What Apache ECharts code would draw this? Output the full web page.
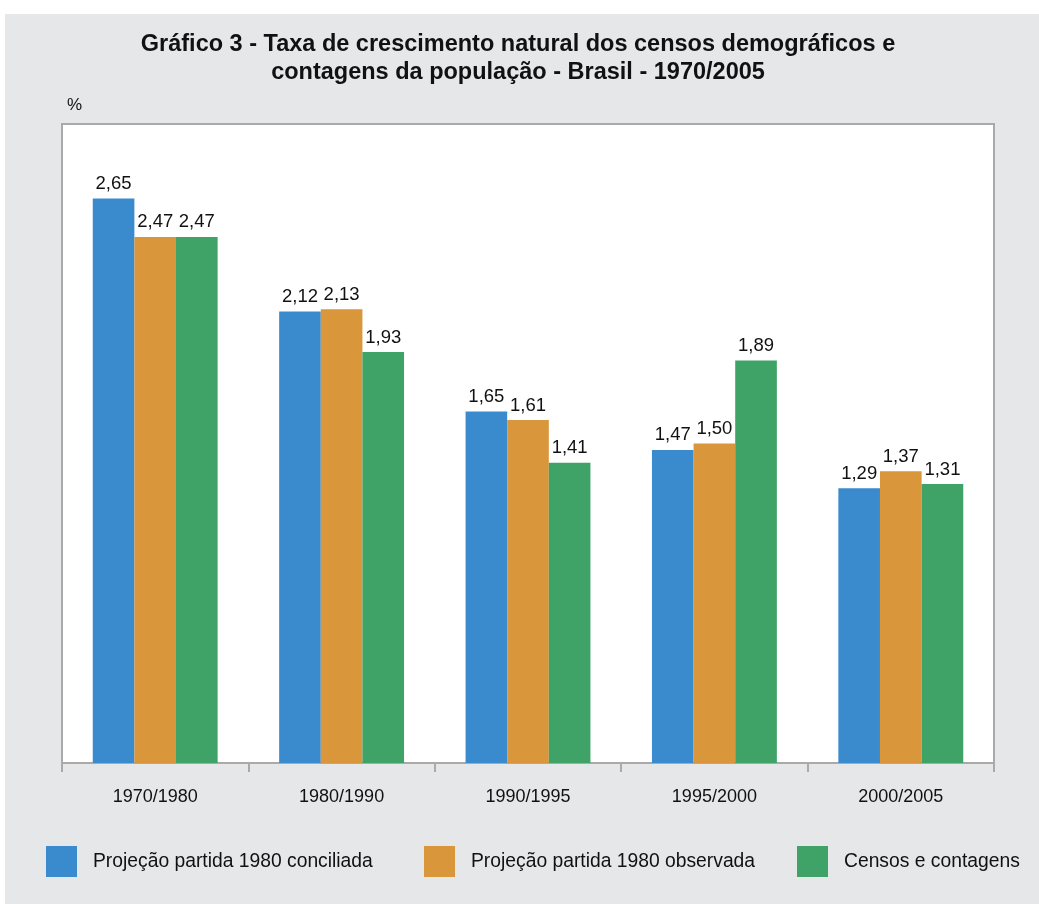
<!DOCTYPE html>
<html><head><meta charset="utf-8">
<script src="https://cdn.jsdelivr.net/npm/echarts@6/dist/echarts.min.js"></script>
<style>html,body{margin:0;padding:0;background:#fff}#c{width:1039px;height:904px}</style>
</head><body><div id="c"></div>
<script>
var categories = ['1970/1980','1980/1990','1990/1995','1995/2000','2000/2005'];
var seriesNames = ['Projeção partida 1980 conciliada','Projeção partida 1980 observada','Censos e contagens'];
var conciliada = [2.65, 2.12, 1.65, 1.47, 1.29];
var observada = [2.47, 2.13, 1.61, 1.50, 1.37];
var censos = [2.47, 1.93, 1.41, 1.89, 1.31];
var colors = ['#3a8bcd','#d9963a','#3fa266'];
var FONT = '"Liberation Sans", Arial, Helvetica, sans-serif';

var chart = echarts.init(document.getElementById('c'));
var vals = [conciliada, observada, censos];
var legendLefts = [41, 419, 792];
var option = {
  backgroundColor: '#ffffff',
  animation: false,
  graphic: [
    {type:'rect', z:-10, shape:{x:5,y:14,width:1034,height:890}, style:{fill:'#e6e7e9'}},
    {type:'text', x:518, y:31, z:10, style:{text:'Gráfico 3 - Taxa de crescimento natural dos censos demográficos e\ncontagens da população - Brasil - 1970/2005',
      fontFamily: FONT, fontWeight:'bold', fontSize: 23.5, lineHeight: 28, fill:'#111', textAlign:'center'}},
    {type:'text', x:67, y:97, z:10, style:{text:'%', fontFamily: FONT, fontSize: 17, fill:'#111'}}
  ],
  legend: seriesNames.map(function(n,i){
    return {data:[n], left: legendLefts[i], top: 841, itemWidth: 31, itemHeight: 31, itemGap: 0,
      icon: 'rect', textStyle:{fontFamily: FONT, fontSize: 19.3, color:'#111', padding:[4,0,0,11]}, selectedMode:false};
  }),
  grid: {left: 62, right: 45, top: 124, bottom: 141, show: true, backgroundColor: '#ffffff', borderColor: '#aaaaaa', borderWidth: 2},
  xAxis: {
    type: 'category', data: categories,
    axisLine: {lineStyle:{color:'#aaaaaa', width:2}},
    axisTick: {show:true, length: 9, lineStyle:{color:'#aaaaaa', width:2}},
    axisLabel: {fontFamily: FONT, fontSize: 18, color:'#111', margin: 25}
  },
  yAxis: {
    type: 'value', min: 0, max: 3, interval: 1,
    axisLine:{show:false}, axisTick:{show:false}, axisLabel:{show:false}, splitLine:{show:false}
  },
  series: seriesNames.map(function(n,i){
    return {name:n, type:'bar', data: vals[i], barGap: '0%', barCategoryGap: '33%',
      itemStyle:{color: colors[i]},
      label:{show:true, position:'top', distance:5, fontFamily: FONT, fontSize: 18.5, color:'#111',
        formatter: function(p){ return p.value.toFixed(2).replace('.', ','); }}};
  })
};
chart.setOption(option);
</script></body></html>
